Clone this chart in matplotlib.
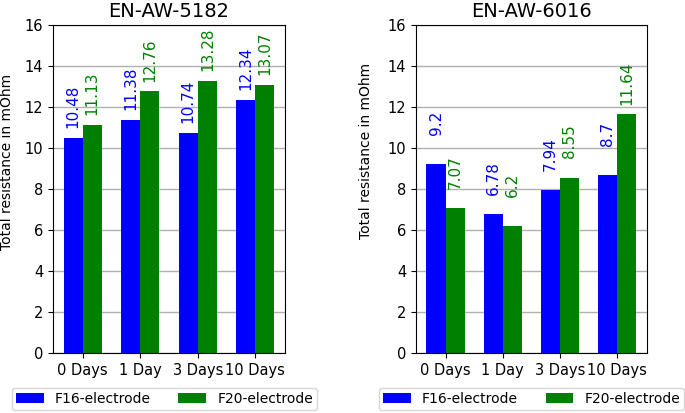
import matplotlib
matplotlib.use("Agg")
import matplotlib.pyplot as plt
import numpy as np

days = ['0 Days', '1 Day', '3 Days', '10 Days']
f16_5182 = [10.48, 11.38, 10.74, 12.34]
f20_5182 = [11.13, 12.76, 13.28, 13.07]
f16_6016 = [9.2, 6.78, 7.94, 8.7]
f20_6016 = [7.07, 6.2, 8.55, 11.64]

fig = plt.figure(figsize=(6.85, 4.13), dpi=100)
ax1 = fig.add_axes([0.0774, 0.1453, 0.3387, 0.794])
ax2 = fig.add_axes([0.6073, 0.1453, 0.3372, 0.794])

w = 0.333
x = np.arange(len(days))


def draw(ax, title, f16, f20, label_pos, leg_x):
    ax.set_axisbelow(True)
    ax.yaxis.grid(True, color='#b0b0b0', linewidth=1)
    ax.bar(x - w / 2, f16, w, color='blue', label='F16-electrode')
    ax.bar(x + w / 2, f20, w, color='green', label='F20-electrode')
    for i in range(len(days)):
        ax.text(x[i] - w / 2, f16[i] + 2.6, str(f16[i]), rotation=90,
                ha='center', va='top', color='blue', fontsize=11)
        ax.text(x[i] + w / 2, f20[i] + 2.6, str(f20[i]), rotation=90,
                ha='center', va='top', color='green', fontsize=11)
    ax.set_ylim(0, 16)
    ax.set_yticks(range(0, 17, 2))
    ax.set_xticks(x)
    ax.set_xticklabels(days, fontsize=10.5)
    ax.tick_params(axis='y', labelsize=10.5)
    ax.set_title(title, fontsize=14)
    ax.set_ylabel('Total resistance in mOhm', fontsize=10)
    ax.yaxis.set_label_coords(label_pos[0], label_pos[1])
    ax.legend(loc='upper center', bbox_to_anchor=(leg_x, -0.085), ncol=2,
              fontsize=10, borderpad=0.3)


draw(ax1, 'EN-AW-5182', f16_5182, f20_5182, (-0.17, 0.584), 0.48)
draw(ax2, 'EN-AW-6016', f16_6016, f20_6016, (-0.186, 0.617), 0.5)

plt.savefig('out.png', dpi=100)
